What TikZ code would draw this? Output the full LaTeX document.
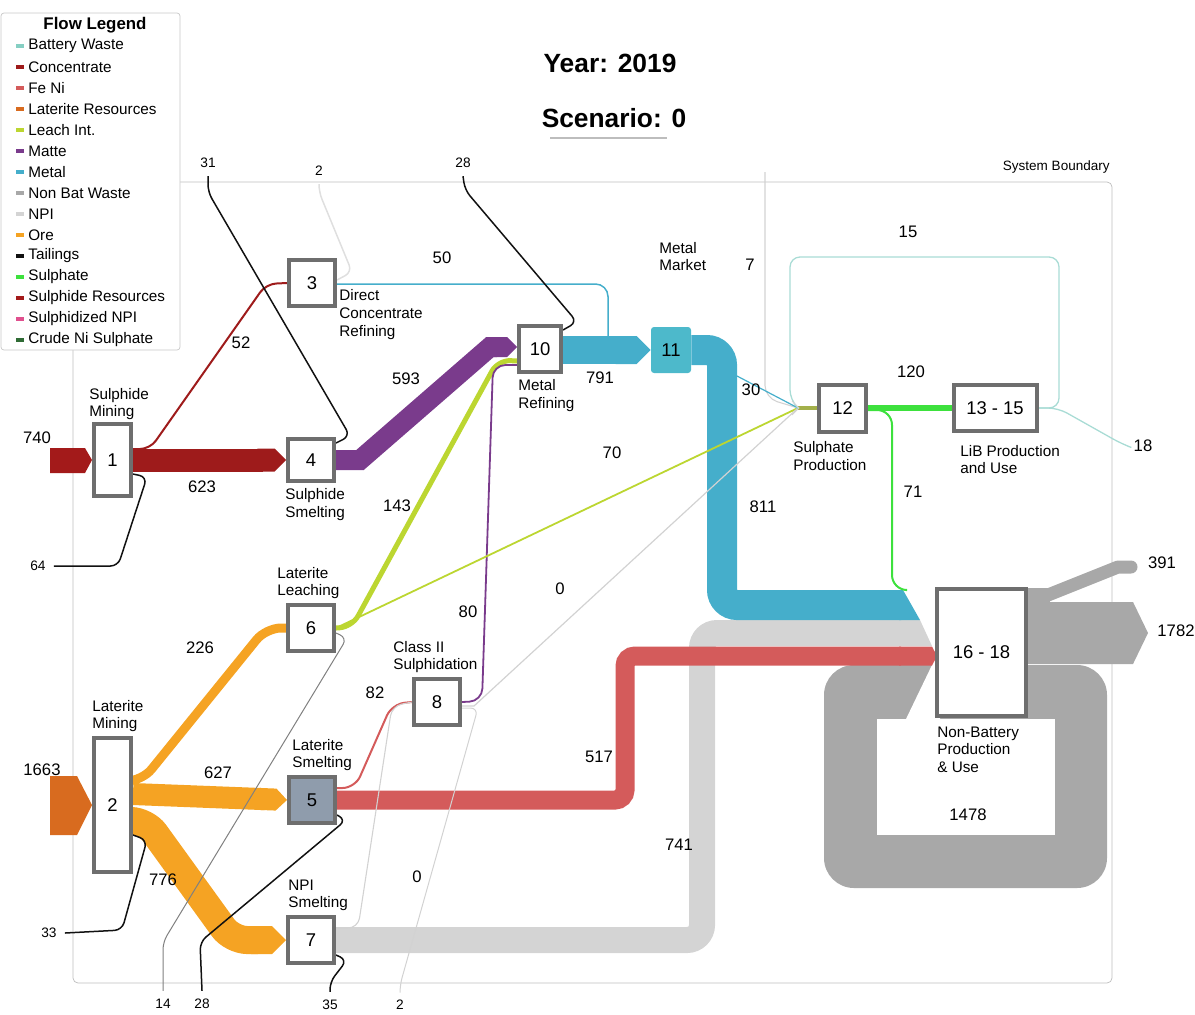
\documentclass[tikz,border=0pt]{standalone}
\usepackage{fontspec}
\setmainfont{Liberation Sans}
\usetikzlibrary{arrows.meta,calc}
\pgfdeclarelayer{background}
\pgfsetlayers{background,main}

\definecolor{batwaste}{HTML}{86CFC3}
\definecolor{batline}{HTML}{A9DCD5}
\definecolor{concentrate}{HTML}{9E1B1B}
\definecolor{feni}{HTML}{D45B5B}
\definecolor{latres}{HTML}{D86B1F}
\definecolor{leach}{HTML}{BCD631}
\definecolor{matte}{HTML}{7A3B8C}
\definecolor{metal}{HTML}{45AECB}
\definecolor{mkt}{HTML}{4DB9CB}
\definecolor{nbwaste}{HTML}{A8A8A8}
\definecolor{npi}{HTML}{D4D4D4}
\definecolor{ore}{HTML}{F5A323}
\definecolor{tailings}{HTML}{111111}
\definecolor{sulphate}{HTML}{3DE13D}
\definecolor{sulres}{HTML}{A31A1A}
\definecolor{sulnpi}{HTML}{E0508E}
\definecolor{crudeni}{HTML}{2F6B35}
\definecolor{boxgray}{HTML}{6E6E6E}
\definecolor{slate}{HTML}{8F9CAC}
\definecolor{boundary}{HTML}{BDBDBD}
\definecolor{legframe}{HTML}{C8C8C8}
\definecolor{zero}{HTML}{D2D2D2}
\definecolor{stub}{HTML}{A3B04A}

\tikzset{
  bw/.style={line width=#1*0.02cm},
  procbox/.style={draw=boxgray, line width=0.08cm, fill=white, inner sep=0,
    font=\fontsize{10.5}{12}\selectfont},
  num/.style={font=\fontsize{9.5}{11}\selectfont, inner sep=0},
  tlab/.style={font=\fontsize{7.8}{9}\selectfont, inner sep=0.16cm},
  lbl/.style={font=\fontsize{8.7}{10}\selectfont, align=left, inner sep=0, anchor=west},
  tail/.style={tailings, bw=1.5, rounded corners=0.15cm},
}

\begin{document}
\begin{tikzpicture}[x=0.02cm, y=-0.02cm]
  \useasboundingbox (0,0) rectangle (1195,1014);

  % titre
  \node[font=\bfseries\fontsize{15}{18}\selectfont] (year) at (610,63) {Year: 2019};
  \node[font=\bfseries\fontsize{15}{18}\selectfont] (scen) at (614,118) {Scenario: 0};
  \draw[boundary, bw=2] (550,138) -- (667,138);
  \node[anchor=east, font=\fontsize{7.7}{9}\selectfont, inner sep=0] (sysb) at (1110,167) {System Boundary};

  % legende
  \draw[legframe, fill=white, rounded corners=0.06cm] (1,13) rectangle (180,350);
  \node[font=\bfseries\fontsize{9.6}{11}\selectfont] (legtitle) at (95,25) {Flow Legend};
  \foreach \col/\txt [count=\i] in {batwaste/Battery Waste, concentrate/Concentrate,
      feni/Fe Ni, latres/Laterite Resources, leach/Leach Int., matte/Matte,
      metal/Metal, nbwaste/Non Bat Waste, npi/NPI, ore/Ore, tailings/Tailings,
      sulphate/Sulphate, sulres/Sulphide Resources, sulnpi/Sulphidized NPI,
      crudeni/Crude Ni Sulphate} {
    \draw[\col, bw=4] (16,{25+21*\i}) -- (24,{25+21*\i});
    \node[lbl] (leg\i) at (28,{25+21*\i}) {\txt};
  }

  % procedes
  \node[procbox, minimum width=0.74cm, minimum height=1.44cm] (n1) at (112.5,460) {1};
  \node[procbox, minimum width=0.74cm, minimum height=2.68cm] (n2) at (112.5,805) {2};
  \node[procbox, minimum size=0.92cm] (n3) at (312,283) {3};
  \node[procbox, minimum width=0.92cm, minimum height=0.84cm] (n4) at (311,460) {4};
  \node[procbox, fill=slate, minimum size=0.92cm] (n5) at (312,800) {5};
  \node[procbox, minimum size=0.92cm] (n6) at (311,628) {6};
  \node[procbox, minimum size=0.92cm] (n7) at (311,940) {7};
  \node[procbox, minimum size=0.92cm] (n8) at (437,702) {8};
  \node[procbox, minimum width=0.84cm, minimum height=0.92cm] (n10) at (540,349) {10};
  \node[fill=mkt, rounded corners=0.06cm, minimum width=0.8cm, minimum height=0.92cm,
    inner sep=0, font=\fontsize{10.5}{12}\selectfont] (n11) at (671,350) {11};
  \node[procbox, minimum size=0.94cm] (n12) at (842.5,408) {12};
  \node[procbox, minimum width=1.66cm, minimum height=0.92cm] (n13) at (995,408) {13 - 15};
  \node[procbox, minimum width=1.78cm, minimum height=2.54cm] (n16) at (981.5,652.5) {16 - 18};

  \node[lbl] (d1) at (89,404) {Sulphide\\Mining};
  \node[lbl] (d2) at (92,716) {Laterite\\Mining};
  \node[lbl] (d3) at (339,314.5) {Direct\\Concentrate\\Refining};
  \node[lbl] (d4) at (285,504.5) {Sulphide\\Smelting};
  \node[lbl] (d5) at (292,755) {Laterite\\Smelting};
  \node[lbl] (d6) at (277,583) {Laterite\\Leaching};
  \node[lbl] (d7) at (288,895.5) {NPI\\Smelting};
  \node[lbl] (d8) at (393,657) {Class II\\Sulphidation};
  \node[lbl] (d10) at (518,395.5) {Metal\\Refining};
  \node[lbl] (d11) at (659,256.5) {Metal\\Market};
  \node[lbl] (d12) at (793,456) {Sulphate\\Production};
  \node[lbl] (d13) at (960,459.5) {LiB Production\\and Use};
  \node[lbl] (d16) at (937,749.5) {Non-Battery\\Production\\\& Use};

  % valeurs
  \node[num] (v740) at (37,438) {740};
  \node[num] (v1663) at (42,770) {1663};
  \node[num] (v623) at (202,487) {623};
  \node[num] (v52) at (241,343) {52};
  \node[num] (v593) at (406,379) {593};
  \node[num] (v143) at (397,506) {143};
  \node[num] (v50) at (442,258) {50};
  \node[num] (v791) at (600,378) {791};
  \node[num] (v7) at (750,265) {7};
  \node[num] (v15) at (908,232) {15};
  \node[num] (v120) at (911,372) {120};
  \node[num] (v30) at (751,390) {30};
  \node[num] (v70) at (612,453) {70};
  \node[num] (v811) at (763,507) {811};
  \node[num] (v71) at (913,492) {71};
  \node[num] (v391) at (1162,563) {391};
  \node[num] (v1782) at (1176,631) {1782};
  \node[num] (v1478) at (968,815) {1478};
  \node[num] (v0a) at (560,589) {0};
  \node[num] (v80) at (468,612) {80};
  \node[num] (v226) at (200,648) {226};
  \node[num] (v82) at (375,693) {82};
  \node[num] (v627) at (218,773) {627};
  \node[num] (v517) at (599,757) {517};
  \node[num] (v741) at (679,845) {741};
  \node[num] (v0b) at (417,877) {0};
  \node[num] (v776) at (163,880) {776};
  \node[num, inner sep=0.12cm] (t18) at (1143,446) {18};

  \node[tlab] (t64) at (38,566) {64};
  \node[tlab] (t33) at (49,933) {33};
  \node[tlab] (t31) at (208,163) {31};
  \node[tlab] (t2a) at (319,171) {2};
  \node[tlab] (t28a) at (463,163) {28};
  \node[tlab] (t14) at (163,1004) {14};
  \node[tlab] (t28b) at (202,1004) {28};
  \node[tlab] (t35) at (330,1005) {35};
  \node[tlab] (t2b) at (400,1005) {2};

  \begin{pgfonlayer}{background}
    \draw[boundary, rounded corners=0.1cm] (73,182) rectangle (1112,983);

    % entrees
    \fill[sulres] (50,448) -- (85,448) -- (n1.west) -- (85,473) -- (50,473) -- cycle;
    \fill[latres] (50,776) -- (77,776) -- (n2.west) -- (77,835) -- (50,835) -- cycle;

    % boucle et sorties 16-18
    \fill[nbwaste, rounded corners=0.6cm] (824,665) rectangle (1107,888);
    \fill[white] (877,719) rectangle (1055,835);
    \fill[white] (932,665) -- (940,665) -- (940,719) -- (906,719) -- cycle;
    \fill[nbwaste] (n16.east |- 0,602) -- (1133,602) -- (1148,633) -- (1133,664)
      -- (n16.east |- 0,664) -- cycle;
    \fill[nbwaste] (n16.east |- 0,588) rectangle (1050,602);
    \draw[nbwaste, bw=13, line cap=round, line join=round]
      (1030,595) -- (1048,595) -- (1118,567) -- (1131,567);

    % bandes vers 16-18
    \draw[npi, bw=26, rounded corners=0.3cm] (n7.east) -- (702,940) -- (702,633) -- (901,633);
    \fill[npi] (899,620) -- (920,620) -- (932,646) -- (899,646) -- cycle;
    \draw[feni, bw=19, rounded corners=0.2cm] (n5.east) -- (625,800) -- (625,656) -- (901,656);
    \fill[feni] (899,646.5) -- (932,646.5) -- (937,656) -- (932,665.5) -- (899,665.5) -- cycle;
    \draw[metal, bw=30, rounded corners=0.3cm] (n11.east) -- (722,350) -- (722,605) -- (901,605);
    \fill[metal] (899,590) -- (903,590) -- (920,620) -- (899,620) -- cycle;

    % concentre et minerai
    \draw[concentrate, bw=23, -{Triangle Cap}] (n1.east) -- (n4.west);
    \draw[concentrate, bw=2, rounded corners=0.2cm] (n1.east |- 0,449) -- (150,449) -- (266,284) -- (n3.west);
    \draw[ore, bw=9, rounded corners=0.3cm] (n2.east |- 0,781) -- (142,781) -- (266,628) -- (n6.west);
    \draw[ore, bw=22, -{Triangle Cap}] (n2.east |- 0,794) -- (n5.west);
    \draw[ore, bw=28, rounded corners=0.3cm, -{Triangle Cap}] (n2.east |- 0,821) -- (146,821)
      -- (232,940) -- (n7.west);

    % vers 10 et 11
    \draw[matte, bw=20, -{Triangle Cap}] (n4.east) -- (360,460) -- (490,347) -- (n10.west |- 0,347);
    \draw[leach, bw=5, rounded corners=0.25cm] (n6.east) -- (352,627) -- (498,360) -- (n10.west |- 0,361);
    \draw[matte, bw=1.8, rounded corners=0.25cm] (n8.east) -- (482,701) -- (493,365) -- (n10.west |- 0,365);
    \draw[metal, bw=28, -{Triangle Cap}] (n10.east |- 0,350) -- (n11.west);
    \draw[metal, bw=1.5, rounded corners=0.25cm] (n3.east |- 0,284) -- (608,284) -- (608,345);
    \draw[feni, bw=2, rounded corners=0.25cm] (n5.east |- 0,788) -- (355,788) -- (392,704) -- (n8.west);

    % sulfate
    \draw[sulphate, bw=6] (n12.east) -- (n13.west);
    \draw[sulphate, bw=2, rounded corners=0.3cm] (n12.east |- 0,410) -- (892,410) -- (892,590) -- (906,590);

    % entrees de 12
    \coordinate (in12) at (798,408);
    \draw[leach, bw=1.8] (n6.east) -- (in12);
    \draw[zero, bw=1.2] (n8.east |- 0,706) -- (474,706) -- (in12);
    \draw[zero, bw=1.1, rounded corners=0.25cm] (765,172) -- (765,398) -- (in12);
    \draw[metal, bw=1.2] (737,376) -- (in12);
    \draw[batline, bw=1.3, rounded corners=0.2cm] (n13.east) -- (1059,408) -- (1059,257)
      -- (790,257) -- (790,400) -- (in12);
    \draw[stub, bw=4] (in12) -- (n12.west);
    \draw[zero, bw=1] (792,401) -- (799,408) -- (792,415);
    \draw[batline, bw=1.3, rounded corners=0.2cm] (n13.east) -- (1058,408) -- (1122,444) -- (t18.west);

    % residus
    \draw[tail] (n1.east |- 0,474) -- (147,477) -- (118,566) -- (t64.east);
    \draw[tail] (n2.east |- 0,835) -- (147,840) -- (122,930) -- (t33.east);
    \draw[tail] (t31.south) -- (208,192) -- (350,436) -- (n4.east |- 0,443);
    \draw[tail, zero!70!white] (t2a.south) -- (319,192) -- (352,272) -- (n3.east |- 0,280);
    \draw[tail] (t28a.south) -- (465,190) -- (577,322) -- (n10.east |- 0,330);
    \draw[tail, gray, bw=1] (n6.east |- 0,633) -- (347,638) -- (163,942) -- (t14.north);
    \draw[tail] (n5.east |- 0,815) -- (346,820) -- (200,942) -- (t28b.north);
    \draw[tail] (n7.east |- 0,955) -- (347,960) -- (330,982) -- (t35.north);
    \draw[tail, zero, bw=1] (n8.east |- 0,708) -- (478,708) -- (400,985) -- (t2b.north);
    \draw[zero, bw=1.1, rounded corners=0.2cm] (n7.east |- 0,928) -- (358,928) -- (392,706) -- (n8.west);
  \end{pgfonlayer}
\end{tikzpicture}
\end{document}
